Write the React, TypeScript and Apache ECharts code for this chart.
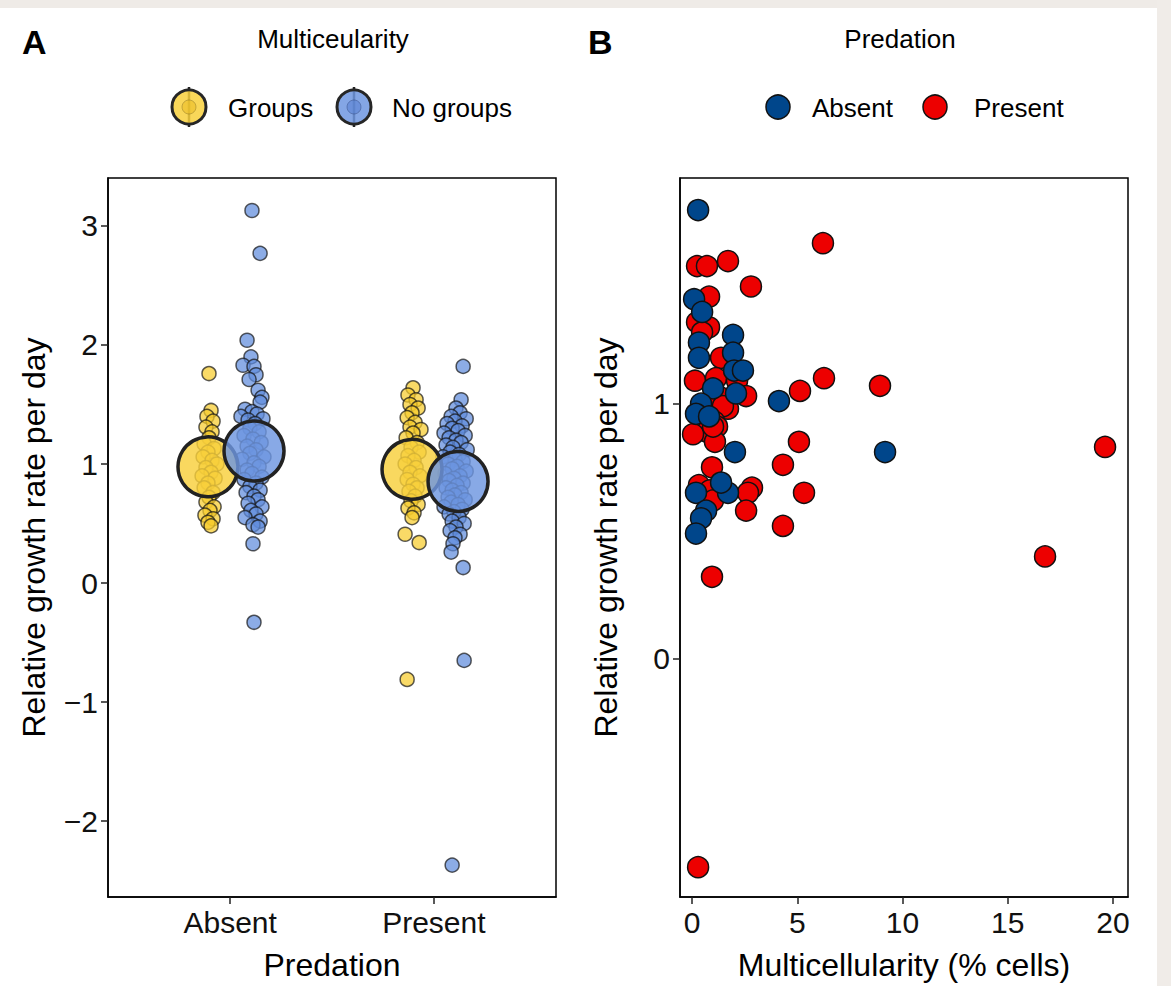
import React, { useEffect, useRef } from "react";
import * as echarts from "echarts";

// ---------- Panel A data: [jittered x (Absent = 1, Present = 2), growth rate] ----------
const categoriesA = ["Absent", "Present"];
const absentGroups: [number, number][] = [
  [0.896, 1.76], [0.906, 1.45], [0.886, 1.40], [0.916, 1.36], [0.881, 1.31], [0.911, 1.27], [0.896, 1.22],
  [0.872, 1.17], [0.921, 1.13], [0.891, 1.10], [0.867, 1.06], [0.911, 1.03], [0.935, 1.00], [0.881, 0.97],
  [0.906, 0.93], [0.862, 0.90], [0.926, 0.88], [0.891, 0.84], [0.872, 0.80], [0.916, 0.76], [0.896, 0.72],
  [0.881, 0.68], [0.921, 0.64], [0.901, 0.61], [0.876, 0.57], [0.916, 0.54], [0.891, 0.51], [0.906, 0.48],
];
const absentNoGroups: [number, number][] = [
  [1.107, 3.13], [1.147, 2.77], [1.083, 2.04], [1.102, 1.90], [1.063, 1.83], [1.117, 1.82], [1.127, 1.75],
  [1.093, 1.71], [1.137, 1.62], [1.156, 1.56], [1.147, 1.52], [1.073, 1.46], [1.107, 1.44], [1.132, 1.42],
  [1.053, 1.40], [1.161, 1.38], [1.088, 1.37], [1.122, 1.34], [1.097, 1.30], [1.142, 1.27], [1.068, 1.24],
  [1.112, 1.21], [1.152, 1.18], [1.083, 1.15], [1.127, 1.12], [1.097, 1.09], [1.166, 1.06], [1.058, 1.04],
  [1.117, 1.01], [1.142, 0.98], [1.083, 0.95], [1.107, 0.92], [1.156, 0.89], [1.068, 0.87], [1.127, 0.84],
  [1.097, 0.81], [1.147, 0.78], [1.078, 0.76], [1.117, 0.73], [1.137, 0.70], [1.088, 0.67], [1.156, 0.64],
  [1.102, 0.61], [1.127, 0.58], [1.073, 0.55], [1.147, 0.52], [1.112, 0.49], [1.137, 0.47], [1.112, 0.33],
  [1.117, -0.33],
];
const presentGroups: [number, number][] = [
  [1.898, 1.64], [1.873, 1.58], [1.913, 1.54], [1.883, 1.50], [1.923, 1.47], [1.893, 1.43], [1.869, 1.39],
  [1.908, 1.35], [1.883, 1.31], [1.937, 1.29], [1.898, 1.26], [1.864, 1.22], [1.918, 1.18], [1.888, 1.14],
  [1.928, 1.10], [1.873, 1.07], [1.903, 1.03], [1.859, 1.00], [1.913, 0.97], [1.883, 0.93], [1.932, 0.90],
  [1.869, 0.87], [1.898, 0.83], [1.918, 0.80], [1.878, 0.77], [1.908, 0.73], [1.888, 0.69], [1.923, 0.66],
  [1.873, 0.63], [1.903, 0.59], [1.893, 0.55], [1.859, 0.41], [1.928, 0.34], [1.869, -0.81],
];
const presentNoGroups: [number, number][] = [
  [2.144, 1.82], [2.134, 1.54], [2.109, 1.47], [2.129, 1.43], [2.085, 1.40], [2.159, 1.38], [2.104, 1.36],
  [2.065, 1.34], [2.139, 1.32], [2.090, 1.30], [2.119, 1.28], [2.050, 1.26], [2.154, 1.24], [2.075, 1.22],
  [2.109, 1.20], [2.134, 1.18], [2.060, 1.16], [2.094, 1.14], [2.164, 1.12], [2.080, 1.10], [2.124, 1.08],
  [2.045, 1.06], [2.104, 1.04], [2.144, 1.02], [2.070, 1.00], [2.114, 0.98], [2.090, 0.96], [2.159, 0.94],
  [2.055, 0.92], [2.129, 0.90], [2.099, 0.88], [2.075, 0.86], [2.144, 0.84], [2.114, 0.82], [2.060, 0.80],
  [2.090, 0.78], [2.134, 0.76], [2.104, 0.74], [2.070, 0.72], [2.154, 0.70], [2.085, 0.68], [2.119, 0.66],
  [2.050, 0.64], [2.139, 0.62], [2.099, 0.60], [2.075, 0.58], [2.124, 0.55], [2.090, 0.52], [2.149, 0.50],
  [2.109, 0.47], [2.080, 0.44], [2.129, 0.41], [2.104, 0.38], [2.094, 0.33], [2.085, 0.26], [2.144, 0.13],
  [2.149, -0.65], [2.090, -2.37],
];
const groupsMeans: [number, number][] = [[0.891, 0.976], [1.893, 0.955]];
const noGroupsMeans: [number, number][] = [[1.117, 1.11], [2.119, 0.854]];
const yTicksA = [-2, -1, 0, 1, 2, 3];

// ---------- Panel B data: [multicellularity %, growth rate] ----------
const absentB: [number, number][] = [
  [0.29, 1.76], [0.10, 1.41], [0.48, 1.36], [0.33, 1.24], [0.33, 1.18], [1.95, 1.27], [1.95, 1.20],
  [2.00, 1.13], [2.42, 1.13], [1.00, 1.06], [2.09, 1.04], [0.43, 1.00], [0.19, 0.96], [0.81, 0.95],
  [4.13, 1.01], [2.04, 0.81], [9.17, 0.81], [0.19, 0.65], [1.71, 0.65], [1.38, 0.69], [0.67, 0.58],
  [0.43, 0.55], [0.19, 0.49],
];
const presentB: [number, number][] = [
  [0.24, 1.54], [0.71, 1.54], [1.71, 1.56], [2.80, 1.46], [0.81, 1.42], [6.22, 1.63], [0.24, 1.32],
  [0.81, 1.30], [0.48, 1.28], [1.38, 1.18], [0.14, 1.09], [1.14, 1.10], [2.14, 1.09], [6.27, 1.10],
  [5.13, 1.05], [8.93, 1.07], [2.57, 1.03], [1.24, 1.03], [1.71, 0.98], [1.47, 0.99], [1.05, 0.93],
  [1.19, 0.91], [0.71, 0.89], [0.05, 0.88], [1.09, 0.85], [5.08, 0.85], [19.62, 0.83], [4.32, 0.76],
  [0.95, 0.75], [0.33, 0.68], [0.86, 0.66], [1.00, 0.62], [2.85, 0.67], [2.66, 0.65], [5.32, 0.65],
  [2.57, 0.58], [4.32, 0.52], [16.77, 0.40], [0.95, 0.32], [0.29, -0.82], [1.00, 0.91],
];
const xTicksB = [0, 5, 10, 15, 20];
const yTicksB = [0, 1];

const FONT = "'Liberation Sans', Arial, Helvetica, sans-serif";
const minus = (v: number) => String(v).replace("-", "\u2212");

export default function App() {
  const ref = useRef<HTMLDivElement>(null);
  useEffect(() => {
    document.body.style.margin = "0";
    const chart = echarts.init(ref.current!, null, { renderer: "svg" });
    const axisLine = { show: true, onZero: false, lineStyle: { color: "#000", width: 1.5 } };
    const tick = (vals: number[]) => ({ show: true, length: 7, customValues: vals, lineStyle: { color: "#222", width: 1.5 } });
    const label = (vals: number[], fmt: any) => ({ customValues: vals, formatter: fmt, fontSize: 30, color: "#111", fontFamily: FONT, margin: 10 });
    const nameStyle = { fontSize: 32, color: "#000", fontFamily: FONT };
    const smallPt = (fill: string) => ({ color: fill, borderColor: "rgba(20,20,20,0.7)", borderWidth: 1.5, opacity: 1 });
    const bigPt = (fill: string) => ({ color: fill, borderColor: "#222", borderWidth: 3.5, opacity: 1 });

    chart.setOption({
      animation: false,
      backgroundColor: "#fff",
      textStyle: { fontFamily: FONT },
      grid: [
        { left: 108, top: 178, width: 448, height: 720, show: true, borderColor: "#000", borderWidth: 1.5, backgroundColor: "transparent" },
        { left: 680, top: 178, width: 448, height: 720, show: true, borderColor: "#000", borderWidth: 1.5, backgroundColor: "transparent" },
      ],
      xAxis: [
        {
          type: "value", gridIndex: 0, min: 0.4, max: 2.6, splitLine: { show: false },
          axisLine, axisTick: tick([1, 2]),
          axisLabel: label([1, 2], (v: number) => categoriesA[Math.round(v) - 1]),
          name: "Predation", nameLocation: "middle", nameGap: 52, nameTextStyle: nameStyle,
        },
        {
          type: "value", gridIndex: 1, min: -0.57, max: 20.71, splitLine: { show: false },
          axisLine, axisTick: tick(xTicksB),
          axisLabel: label(xTicksB, (v: number) => String(v)),
          name: "Multicellularity (% cells)", nameLocation: "middle", nameGap: 52, nameTextStyle: nameStyle,
        },
      ],
      yAxis: [
        {
          type: "value", gridIndex: 0, min: -2.638, max: 3.403, splitLine: { show: false },
          axisLine, axisTick: tick(yTicksA),
          axisLabel: label(yTicksA, minus),
          name: "Relative growth rate per day", nameLocation: "middle", nameGap: 58, nameTextStyle: nameStyle,
        },
        {
          type: "value", gridIndex: 1, min: -0.937, max: 1.886, splitLine: { show: false },
          axisLine, axisTick: tick(yTicksB),
          axisLabel: label(yTicksB, minus),
          name: "Relative growth rate per day", nameLocation: "middle", nameGap: 58, nameTextStyle: nameStyle,
        },
      ],
      series: [
        { type: "scatter", xAxisIndex: 0, yAxisIndex: 0, data: [...absentGroups, ...presentGroups], symbolSize: 14, itemStyle: smallPt("rgba(247,204,45,0.72)") },
        { type: "scatter", xAxisIndex: 0, yAxisIndex: 0, data: [...absentNoGroups, ...presentNoGroups], symbolSize: 14, itemStyle: smallPt("rgba(95,140,220,0.72)") },
        { type: "scatter", xAxisIndex: 0, yAxisIndex: 0, data: groupsMeans, symbolSize: 60, itemStyle: bigPt("rgba(248,208,60,0.82)") },
        { type: "scatter", xAxisIndex: 0, yAxisIndex: 0, data: noGroupsMeans, symbolSize: 60, itemStyle: bigPt("rgba(110,150,225,0.82)") },
        { type: "scatter", xAxisIndex: 1, yAxisIndex: 1, data: presentB, symbolSize: 21, itemStyle: { color: "#ED0000", borderColor: "#111", borderWidth: 1.5, opacity: 1 } },
        { type: "scatter", xAxisIndex: 1, yAxisIndex: 1, data: absentB, symbolSize: 21, itemStyle: { color: "#00468B", borderColor: "#111", borderWidth: 1.5, opacity: 1 } },
      ],
      graphic: [
        { type: "rect", shape: { x: 0, y: 0, width: 1171, height: 8 }, style: { fill: "#efebe7" }, silent: true },
        { type: "rect", shape: { x: 1157, y: 0, width: 14, height: 986 }, style: { fill: "#f0ece8" }, silent: true },
        { type: "text", x: 22, y: 42, style: { text: "A", fontSize: 34, fontWeight: "bold", fill: "#000", fontFamily: FONT, verticalAlign: "middle" } },
        { type: "text", x: 588, y: 42, style: { text: "B", fontSize: 34, fontWeight: "bold", fill: "#000", fontFamily: FONT, verticalAlign: "middle" } },
        { type: "text", x: 333, y: 39, style: { text: "Multiceularity", fontSize: 26, fill: "#000", fontFamily: FONT, align: "center", verticalAlign: "middle" } },
        { type: "text", x: 900, y: 39, style: { text: "Predation", fontSize: 26, fill: "#000", fontFamily: FONT, align: "center", verticalAlign: "middle" } },
        // legend A
        { type: "line", shape: { x1: 189, y1: 87, x2: 189, y2: 127 }, style: { stroke: "#222", lineWidth: 2.5 } },
        { type: "circle", shape: { cx: 189, cy: 107, r: 17 }, style: { fill: "rgba(248,208,60,0.85)", stroke: "#262626", lineWidth: 3 } },
        { type: "circle", shape: { cx: 189, cy: 107, r: 7 }, style: { fill: "rgba(235,190,40,0.6)", stroke: "rgba(120,100,30,0.4)", lineWidth: 1 } },
        { type: "text", x: 228, y: 108, style: { text: "Groups", fontSize: 26, fill: "#000", fontFamily: FONT, verticalAlign: "middle" } },
        { type: "line", shape: { x1: 354, y1: 87, x2: 354, y2: 127 }, style: { stroke: "#222", lineWidth: 2.5 } },
        { type: "circle", shape: { cx: 354, cy: 107, r: 17 }, style: { fill: "rgba(110,150,225,0.85)", stroke: "#262626", lineWidth: 3 } },
        { type: "circle", shape: { cx: 354, cy: 107, r: 7 }, style: { fill: "rgba(90,130,210,0.6)", stroke: "rgba(40,60,110,0.4)", lineWidth: 1 } },
        { type: "text", x: 392, y: 108, style: { text: "No groups", fontSize: 26, fill: "#000", fontFamily: FONT, verticalAlign: "middle" } },
        // legend B
        { type: "circle", shape: { cx: 778, cy: 107, r: 12 }, style: { fill: "#00468B", stroke: "#111", lineWidth: 1.5 } },
        { type: "text", x: 812, y: 108, style: { text: "Absent", fontSize: 26, fill: "#000", fontFamily: FONT, verticalAlign: "middle" } },
        { type: "circle", shape: { cx: 935, cy: 107, r: 12 }, style: { fill: "#ED0000", stroke: "#111", lineWidth: 1.5 } },
        { type: "text", x: 974, y: 108, style: { text: "Present", fontSize: 26, fill: "#000", fontFamily: FONT, verticalAlign: "middle" } },
      ],
    });
    return () => chart.dispose();
  }, []);
  return <div ref={ref} style={{ position: "absolute", left: 0, top: 0, width: 1171, height: 986 }} />;
}
